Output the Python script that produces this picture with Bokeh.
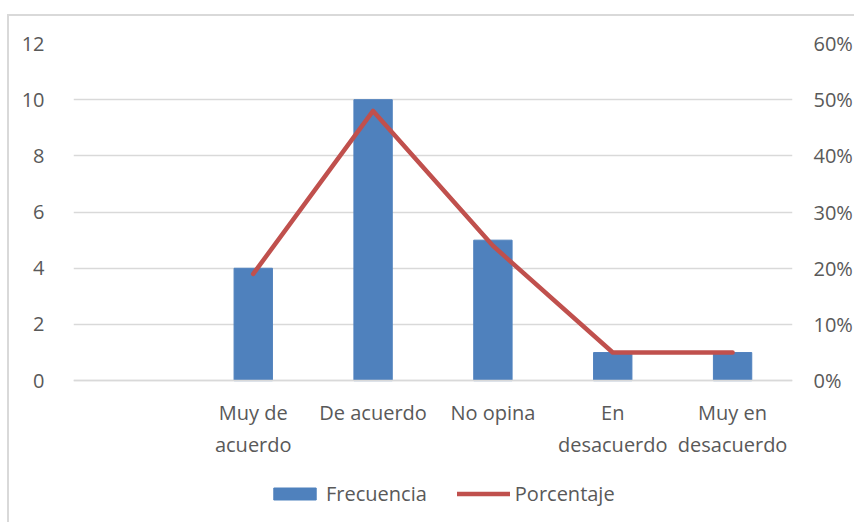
from bokeh.plotting import figure
from bokeh.models import (FactorRange, Range1d, LinearAxis, FixedTicker, NumeralTickFormatter,
                          Legend, LegendItem, ColumnDataSource)
from bokeh.embed import file_html
from bokeh.resources import INLINE

categories = [" ", "Muy de\nacuerdo", "De acuerdo", "No opina", "En\ndesacuerdo", "Muy en\ndesacuerdo"]
bar_cats = ["Muy de\nacuerdo", "De acuerdo", "No opina", "En\ndesacuerdo", "Muy en\ndesacuerdo"]
frecuencia = [4, 10, 5, 1, 1]
porcentaje = [0.19, 0.48, 0.24, 0.05, 0.05]
left_ticks = [0, 2, 4, 6, 8, 10, 12]
right_ticks = [0.0, 0.1, 0.2, 0.3, 0.4, 0.5, 0.6]

FONT = "Open Sans"
FS = "20px"
TXT = "#595959"

Y_MAX = 12
PCT_MAX = 0.6
LOW_FRAC = 0.4            # room below zero for category labels and legend
y_lo = -LOW_FRAC * Y_MAX
pct_lo = -LOW_FRAC * PCT_MAX

p = figure(x_range=FactorRange(factors=categories, range_padding=0), y_range=Range1d(y_lo, Y_MAX),
           width=847, height=508, output_backend="svg", toolbar_location=None,
           min_border_left=64, min_border_top=27, min_border_right=64, min_border_bottom=9)
p.margin = (16, 0, 0, 9)
p.styles = {"box-shadow": "-2px -2px 0 0 #d9d9d9"}
p.outline_line_color = None
p.background_fill_color = "white"
p.border_fill_color = "white"

p.extra_y_ranges = {"pct": Range1d(pct_lo, PCT_MAX)}

src_b = ColumnDataSource(dict(x=bar_cats, top=frecuencia))
bars = p.vbar(x="x", top="top", bottom=0, width=0.32, source=src_b,
              fill_color="#4f81bd", line_color="#4f81bd")
src_l = ColumnDataSource(dict(x=bar_cats, y=porcentaje))
ln = p.line(x="x", y="y", source=src_l, y_range_name="pct", line_color="#c0504d",
            line_width=4.5, line_cap="round", line_join="round")

la = p.yaxis[0]
la.ticker = FixedTicker(ticks=left_ticks)
la.axis_line_color = None
la.major_tick_line_color = None
la.minor_tick_line_color = None
la.major_label_standoff = 23
la.major_label_text_font = FONT
la.major_label_text_font_size = FS
la.major_label_text_color = TXT

ra = LinearAxis(y_range_name="pct", ticker=FixedTicker(ticks=right_ticks),
                formatter=NumeralTickFormatter(format="0%"))
ra.axis_line_color = None
ra.major_tick_line_color = None
ra.minor_tick_line_color = None
ra.major_label_standoff = 15
ra.major_label_text_font = FONT
ra.major_label_text_font_size = FS
ra.major_label_text_color = TXT
p.add_layout(ra, "right")

xa = p.xaxis[0]
xa.fixed_location = 0
xa.axis_line_color = "#d9d9d9"
xa.axis_line_width = 1.5
xa.major_tick_line_color = None
xa.minor_tick_line_color = None
xa.major_label_standoff = 12
xa.major_label_text_font = FONT
xa.major_label_text_font_size = FS
xa.major_label_text_color = TXT

p.xgrid.grid_line_color = None
p.ygrid.grid_line_color = "#d9d9d9"
p.ygrid.grid_line_width = 1.5
p.ygrid.ticker = FixedTicker(ticks=left_ticks)

legend = Legend(items=[LegendItem(label="Frecuencia", renderers=[bars]),
                       LegendItem(label="Porcentaje", renderers=[ln])],
                orientation="horizontal", location=(195, 8),
                label_text_font=FONT, label_text_font_size=FS, label_text_color=TXT,
                glyph_width=53, glyph_height=15, label_standoff=5, spacing=30,
                border_line_color=None, background_fill_alpha=0, margin=0, padding=0)
p.add_layout(legend, "center")

open("out.html", "w").write(file_html(p, INLINE))
